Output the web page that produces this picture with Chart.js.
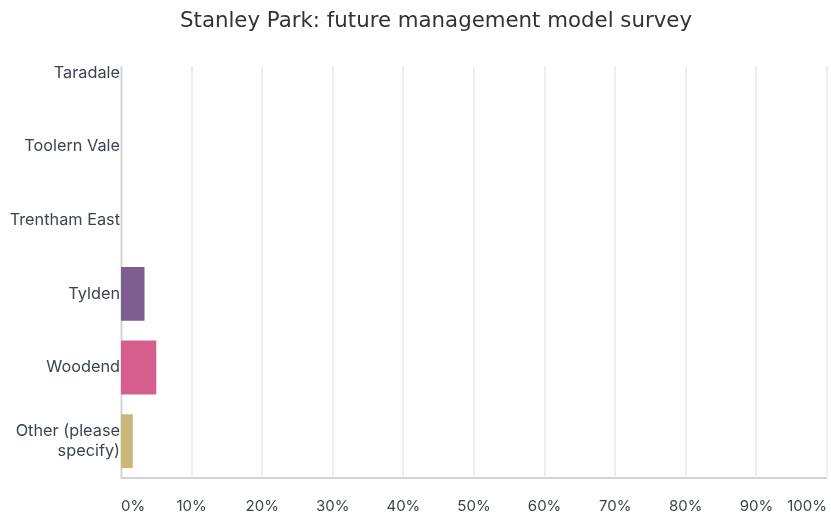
<!DOCTYPE html>
<html>
<head>
<meta charset="utf-8">
<script src="https://cdn.jsdelivr.net/npm/chart.js@4"></script>
<style>
  html, body { margin: 0; padding: 0; background: #fff; }
  #wrap { width: 831px; height: 517px; }
</style>
</head>
<body>
<div id="wrap"><canvas id="myChart" width="831" height="517"></canvas></div>
<script>
// survey answers (percent of respondents)
const places = ['Taradale', 'Toolern Vale', 'Trentham East', 'Tylden', 'Woodend', ['Other (please', 'specify)']];
const shares = [0, 0, 0, 3.33, 5.0, 1.67];
const barColors = ['#5fa4c9', '#6fb9a3', '#a7c96b', '#7e5e91', '#d55e8f', '#c8b878'];
const pctTicks = [0, 10, 20, 30, 40, 50, 60, 70, 80, 90, 100];

const titleText = 'Stanley Park: future management model survey';

// grid + axis lines start a bit below the top of the plot area
const gridTop = 66;

const gridPlugin = {
  id: 'gridLines',
  beforeDatasetsDraw(chart) {
    const c = chart.ctx;
    const x = chart.scales.x;
    const bottom = chart.chartArea.bottom;
    c.save();
    c.lineWidth = 2;
    c.strokeStyle = '#eeeeee';
    pctTicks.forEach(function(v) {
      if (v === 0) return;
      const px = Math.round(x.getPixelForValue(v));
      c.beginPath();
      c.moveTo(px, gridTop);
      c.lineTo(px, bottom - 2);
      c.stroke();
    });
    c.strokeStyle = '#d4d4d4';
    const x0 = Math.round(x.getPixelForValue(0)) + 0.5;
    c.beginPath();
    c.moveTo(x0, gridTop);
    c.lineTo(x0, bottom);
    c.lineTo(chart.chartArea.right, bottom);
    c.stroke();
    c.restore();
  }
};

const titlePlugin = {
  id: 'topTitle',
  afterDraw(chart) {
    const c = chart.ctx;
    c.save();
    c.font = '21.3px "DejaVu Sans"';
    c.fillStyle = '#333333';
    c.textAlign = 'center';
    c.textBaseline = 'middle';
    c.fillText(titleText, 436, 21);
    c.restore();
  }
};

const ctx = document.getElementById('myChart');

new Chart(ctx, {
  type: 'bar',
  data: {
    labels: places,
    datasets: [{
      data: shares,
      backgroundColor: barColors,
      borderWidth: 0,
      barPercentage: 0.73,
      categoryPercentage: 1
    }]
  },
  options: {
    indexAxis: 'y',
    responsive: false,
    animation: false,
    layout: { padding: { top: 36, right: 4, left: 0, bottom: 0 } },
    plugins: {
      legend: { display: false },
      title: { display: false },
      tooltip: { enabled: false }
    },
    scales: {
      x: {
        min: 0,
        max: 100,
        afterBuildTicks(scale) {
          scale.ticks = pctTicks.map(function(v) { return { value: v }; });
        },
        afterFit(scale) {
          scale.height = 39;
          scale.paddingLeft = 0;
          scale.paddingRight = 0;
        },
        grid: { display: false, drawTicks: false },
        border: { display: false },
        ticks: {
          align: 'inner',
          padding: 19,
          maxRotation: 0,
          color: '#3b4450',
          font: { family: 'Inter', size: 15 },
          callback: function(v) { return v + '%'; }
        }
      },
      y: {
        afterFit(scale) { scale.width = 121; },
        grid: { display: false, drawTicks: false },
        border: { display: false },
        ticks: {
          padding: 1,
          color: '#3b4450',
          font: { family: 'Inter', size: 16.3 }
        }
      }
    }
  },
  plugins: [gridPlugin, titlePlugin]
});
</script>
</body>
</html>
